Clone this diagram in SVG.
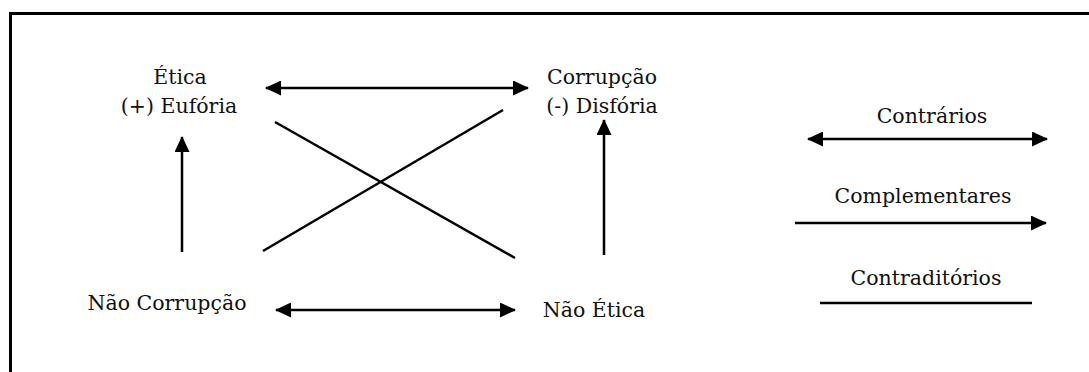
<svg xmlns="http://www.w3.org/2000/svg" width="1089" height="372" viewBox="0 0 1089 372">
<style>
text{font-family:"DejaVu Serif","Liberation Serif",serif;font-size:20.5px;fill:#111;text-anchor:middle}
.ln{stroke:#000;stroke-width:2.5;fill:none}
</style>
<defs>
<marker id="ah" viewBox="0 0 16 15" refX="15" refY="7.5" markerWidth="16" markerHeight="15" markerUnits="userSpaceOnUse" orient="auto-start-reverse">
<path d="M0,0 L16,7.5 L0,15 Z" fill="#000"/>
</marker>
</defs>
<rect width="1089" height="372" fill="#fff"/>
<path d="M10.5,372 V13.5 H1089" stroke="#000" stroke-width="3" fill="none"/>
<g id="etica"><text x="180" y="84">Ética</text><text x="179" y="113">(+) Eufória</text></g>
<g id="corrupcao"><text x="602" y="84">Corrupção</text><text x="602" y="113">(-) Disfória</text></g>
<g id="nao-corrupcao"><text x="167" y="310">Não Corrupção</text></g>
<g id="nao-etica"><text x="594" y="317">Não Ética</text></g>
<g id="legenda">
<text x="932" y="123">Contrários</text>
<text x="923" y="203">Complementares</text>
<text x="926" y="285">Contraditórios</text>
</g>
<g id="connectors">
<line class="ln" x1="266" y1="88" x2="528" y2="88" marker-start="url(#ah)" marker-end="url(#ah)"/>
<line class="ln" x1="276" y1="310" x2="515" y2="310" marker-start="url(#ah)" marker-end="url(#ah)"/>
<line class="ln" x1="182" y1="252" x2="182" y2="137" marker-end="url(#ah)"/>
<line class="ln" x1="604" y1="255" x2="604" y2="120" marker-end="url(#ah)"/>
<line class="ln" x1="275" y1="122" x2="515" y2="258"/>
<line class="ln" x1="263" y1="251" x2="503" y2="110"/>
<line class="ln" x1="808" y1="139" x2="1047" y2="139" marker-start="url(#ah)" marker-end="url(#ah)"/>
<line class="ln" x1="795" y1="223" x2="1046" y2="223" marker-end="url(#ah)"/>
<line class="ln" x1="820" y1="303" x2="1032" y2="303"/>
</g>
</svg>
